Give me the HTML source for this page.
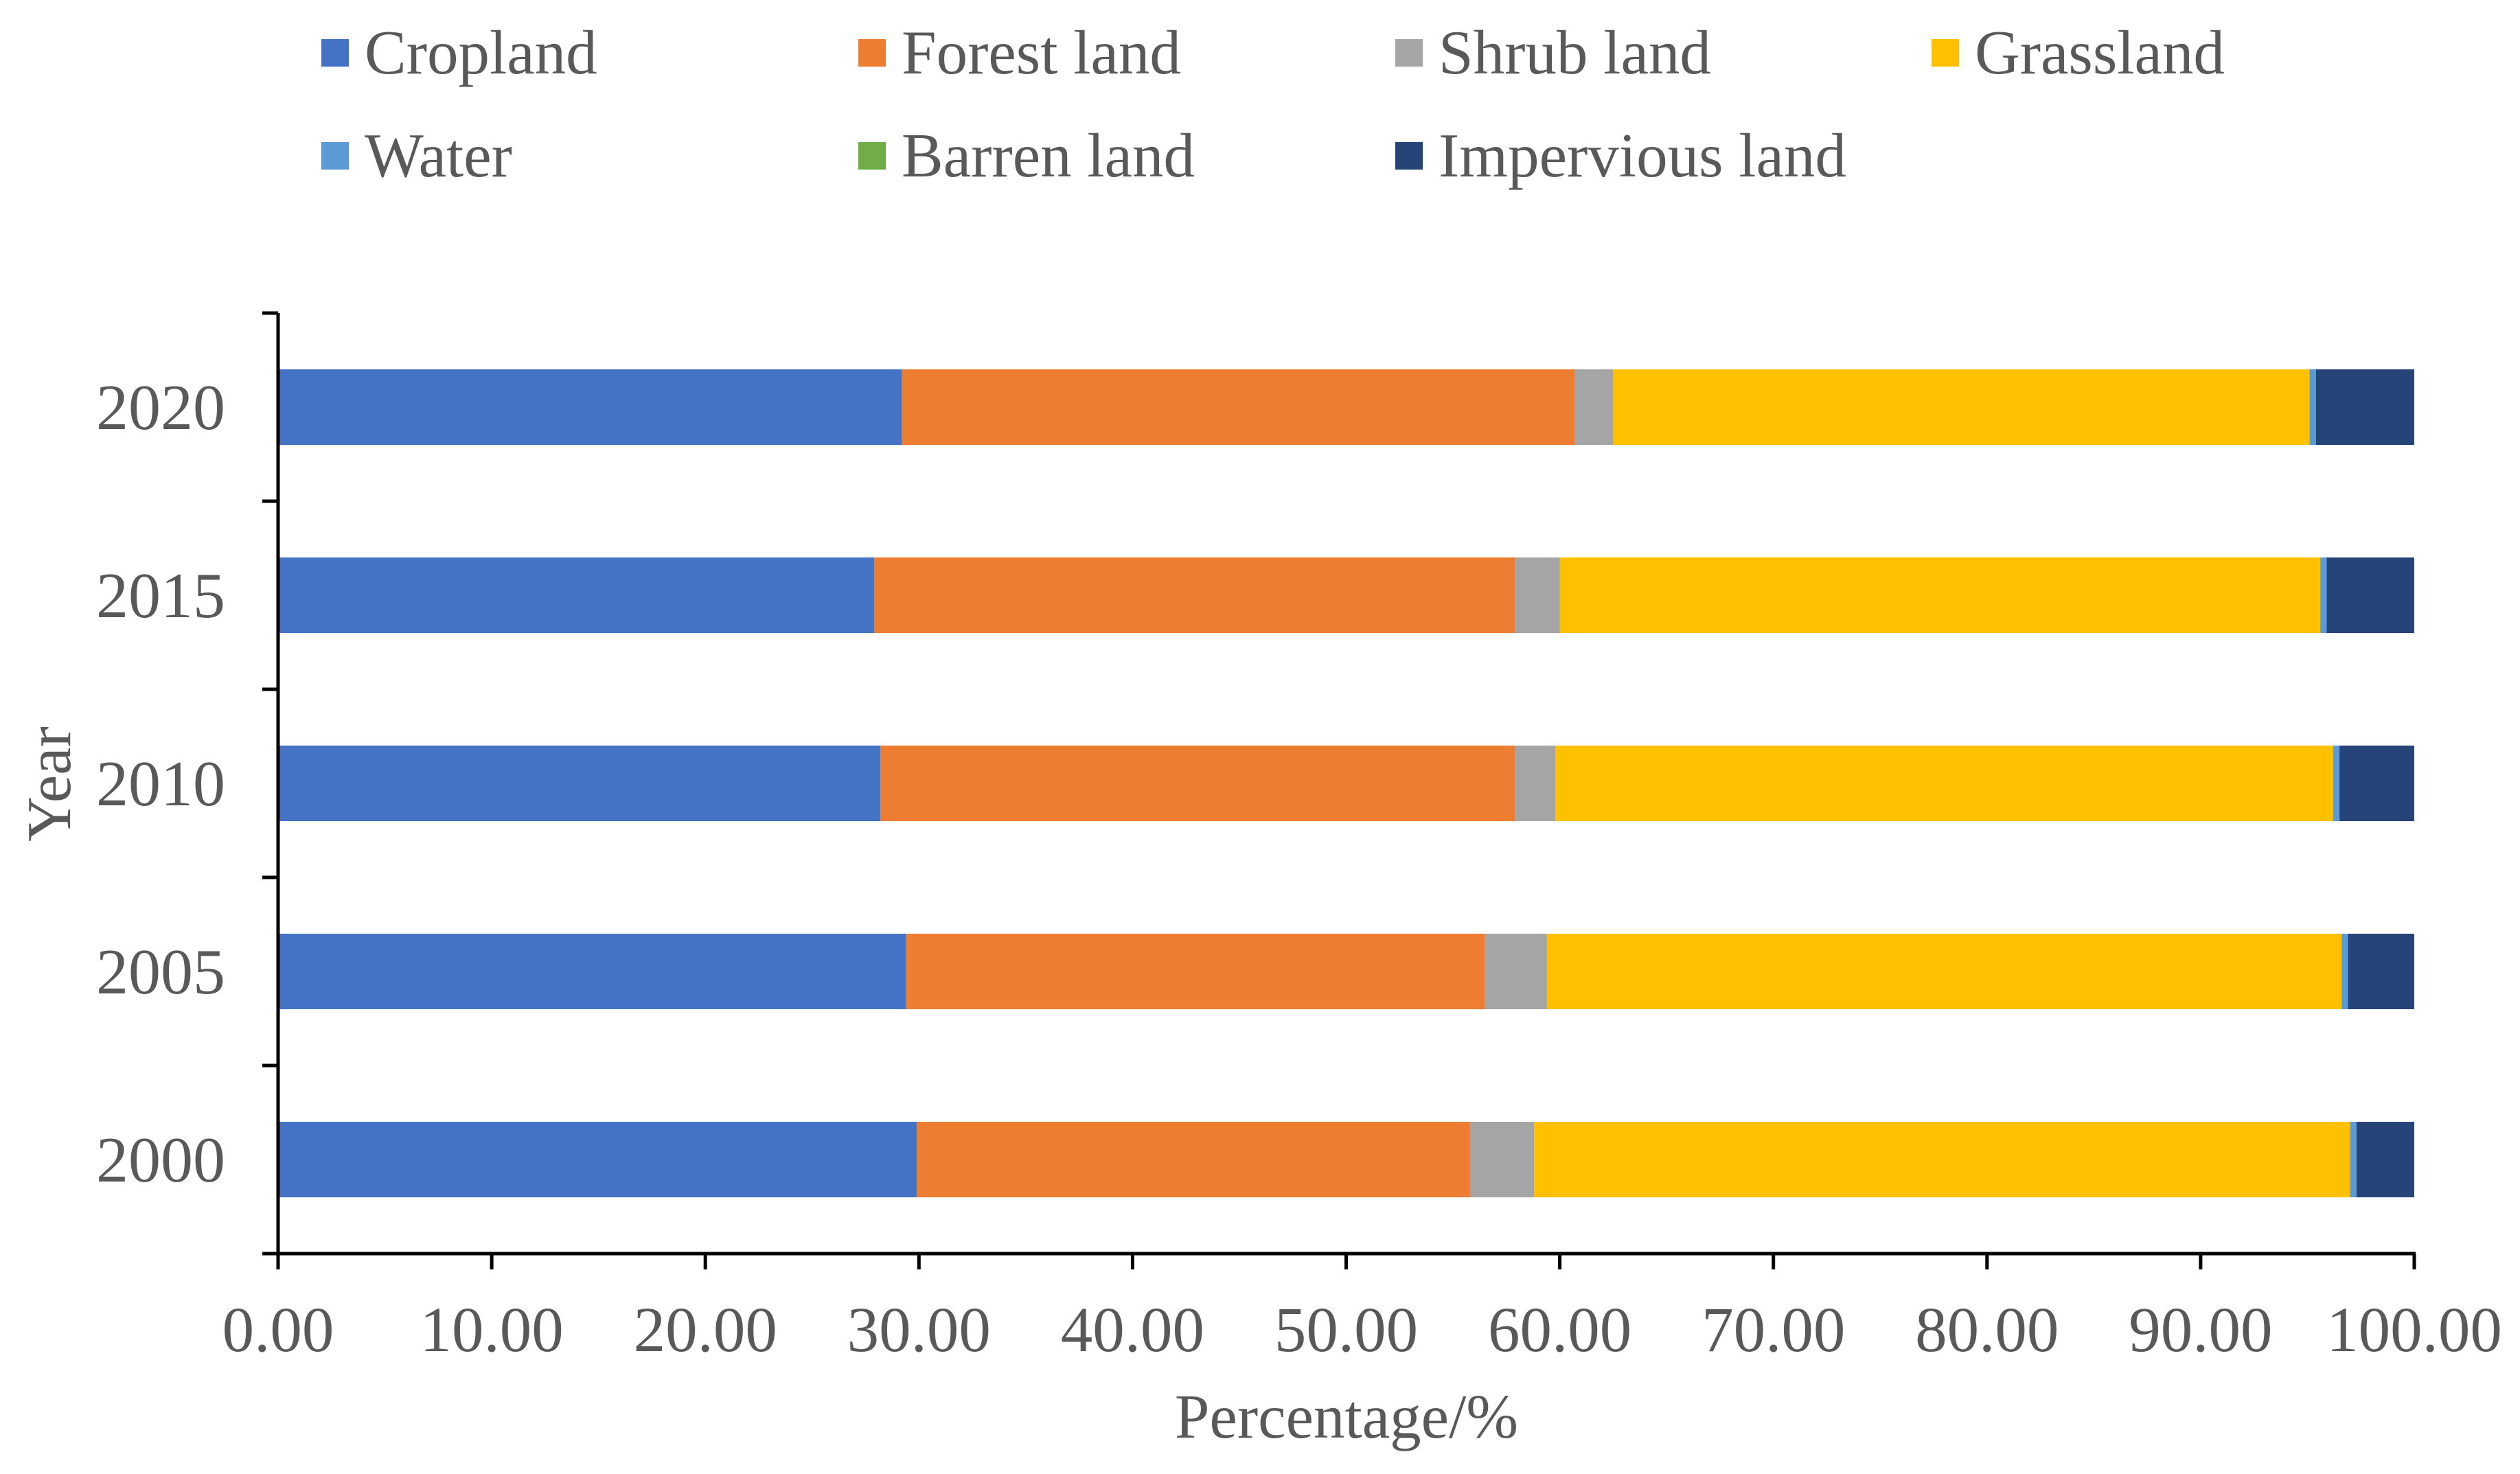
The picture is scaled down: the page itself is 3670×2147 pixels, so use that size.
<!DOCTYPE html>
<html><head><meta charset="utf-8"><style>
html,body{margin:0;padding:0;background:#fff;}
svg text{font-family:"Liberation Serif",serif;fill:#595959;}
</style></head><body>
<svg id="chart" width="3670" height="2142" viewBox="0 0 3670 2142" xmlns="http://www.w3.org/2000/svg">
<g id="legend"></g>
<g id="bars"></g>
<g id="axes"></g>
<text x="1961" y="2094" font-size="91" text-anchor="middle">Percentage/%</text>
<text x="0" y="0" font-size="91" text-anchor="middle" transform="translate(102,1142) rotate(-90)">Year</text>
</svg>
<script>
const years = ["2020","2015","2010","2005","2000"];
const seriesNames = ["Cropland","Forest land","Shrub land","Grassland","Water","Barren land","Impervious land"];
const cropland = [29.2,27.9,28.2,29.4,29.9];
const forest = [31.5,30.0,29.7,27.1,25.9];
const shrub = [1.8,2.1,1.9,2.9,3.0];
const grassland = [32.6,35.6,36.4,37.2,38.2];
const water = [0.3,0.3,0.3,0.3,0.3];
const barren = [0.0,0.0,0.0,0.0,0.0];
const impervious = [4.6,4.1,3.5,3.1,2.7];
const xTicks = ["0.00","10.00","20.00","30.00","40.00","50.00","60.00","70.00","80.00","90.00","100.00"];
const colors = ["#4472C4","#ED7D31","#A5A5A5","#FFC000","#5B9BD5","#70AD47","#264478"];
const series = [cropland,forest,shrub,grassland,water,barren,impervious];
const NS="http://www.w3.org/2000/svg";
const X0=405,X1=3516,YT=456,YB=1826;
const xs=v=>X0+(X1-X0)*v/100;
const band=(YB-YT)/years.length;
const yc=i=>YT+band*(i+0.5);
const BH=110;
function mk(tag,attrs,parent){const e=document.createElementNS(NS,tag);for(const k in attrs)e.setAttribute(k,attrs[k]);parent.appendChild(e);return e;}
const bars=document.getElementById('bars');
years.forEach((y,i)=>{let acc=0;series.forEach((s,j)=>{const v=s[i];
const r=mk('rect',{x:xs(acc),y:yc(i)-BH/2,width:Math.max(0,xs(acc+v)-xs(acc)),height:BH,fill:colors[j]},bars);


acc+=v;});});
const axes=document.getElementById('axes');
const yl=mk('line',{x1:X0,y1:YT,x2:X0,y2:YB,stroke:'#000','stroke-width':5},axes);


const xl=mk('line',{x1:X0-2,y1:YB,x2:X1+2,y2:YB,stroke:'#000','stroke-width':5},axes);


for(let k=0;k<=years.length;k++){const yy=YT+band*k;mk('line',{x1:X0-23,y1:yy,x2:X0,y2:yy,stroke:'#000','stroke-width':5},axes);}
xTicks.forEach((t,k)=>{const xx=xs(k*10);mk('line',{x1:xx,y1:YB,x2:xx,y2:YB+23,stroke:'#000','stroke-width':5},axes);
const tx=mk('text',{x:xx,y:1968,'font-size':93,'text-anchor':'middle'},axes);tx.textContent=t;

});
years.forEach((y,i)=>{const tx=mk('text',{x:328,y:yc(i)+32,'font-size':94,'text-anchor':'end'},axes);tx.textContent=y;

});
const legend=document.getElementById('legend');
const lx=[468,1250,2032,2813];
seriesNames.forEach((n,j)=>{const col=j%4,row=Math.floor(j/4);const x=lx[col],y=row?227:77;
const g=mk('g',{},legend);


mk('rect',{x:x,y:y-20,width:40,height:40,fill:colors[j]},g);
const t=mk('text',{x:x+63,y:y+30,'font-size':91},g);t.textContent=n;});
</script>
</body></html>
